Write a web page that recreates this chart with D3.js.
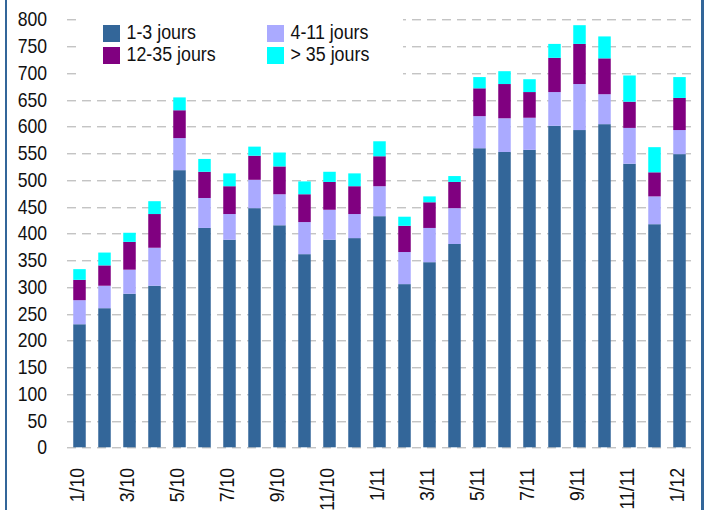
<!DOCTYPE html>
<html>
  <head>
    <meta charset="utf-8">
    <title>Durées</title>
    <style>
    body{margin: 0; background: #fff}
    text {font-family: "Liberation Sans", Arial, sans-serif; fill: #111}
    </style>
  </head>
  <body>
    <script src="https://d3js.org/d3.v7.min.js"></script>
    <script>
    var w = 705, h = 510
    var narrow = 0.88 // squeeze text to look like a narrow face

    // months 1/10 .. 1/12
    var months = ['1/10','2/10','3/10','4/10','5/10','6/10','7/10','8/10','9/10','10/10','11/10','12/10',
      '1/11','2/11','3/11','4/11','5/11','6/11','7/11','8/11','9/11','10/11','11/11','12/11','1/12']

    var series = ['1-3 jours', '4-11 jours', '12-35 jours', '> 35 jours']
    var colors = ['#336699', '#aaaaff', '#800080', '#00ffff']

    var j1_3   = [230,260,287,302,518,410,388,447,415,361,388,391,432,305,346,380,559,552,556,601,593,604,530,417,548]
    var j4_11  = [45,42,45,71,60,56,48,53,58,60,56,45,56,60,64,67,60,63,60,63,86,56,67,52,45]
    var j12_35 = [38,38,52,63,52,49,52,45,52,52,52,52,56,49,48,49,52,64,48,64,75,67,49,45,60]
    var j35    = [20,24,17,24,24,24,24,17,26,24,19,24,28,17,11,11,21,24,24,26,35,41,49,47,39]

    var yTicks = d3.range(0, 801, 50)

    var rows = months.map(function(m, i){
      return {month: m, '1-3 jours': j1_3[i], '4-11 jours': j4_11[i], '12-35 jours': j12_35[i], '> 35 jours': j35[i]}
    })

    var stack = d3.stack().keys(series)(rows)

    var x = d3.scaleBand().domain(months).range([67, 692]).paddingInner(0.5).paddingOuter(0.25)
    var y = d3.scaleLinear().domain([0, 800]).range([447.3, 19.3])

    var svg = d3.select('body').append('svg')
      .attr('width', w)
      .attr('height', h)

    // gridlines
    var grid = svg.append('g')
    grid.selectAll('line.g1').data(yTicks).enter().append('line')
      .attr('x1', 67).attr('x2', 692)
      .attr('y1', function(d){ return Math.round(y(d)) + 0.5 })
      .attr('y2', function(d){ return Math.round(y(d)) + 0.5 })
      .attr('stroke', '#c4c4c4').attr('stroke-dasharray', '9,6')
    grid.selectAll('line.g2').data(yTicks).enter().append('line')
      .attr('x1', 67).attr('x2', 692)
      .attr('y1', function(d){ return Math.round(y(d)) + 1.5 })
      .attr('y2', function(d){ return Math.round(y(d)) + 1.5 })
      .attr('stroke', '#e6e6e6').attr('stroke-dasharray', '9,6')

    // y labels
    svg.append('g').selectAll('g').data(yTicks).enter().append('g')
      .attr('transform', function(d){ return 'translate(47,' + y(d) + ') scale(' + narrow + ',1)' })
      .append('text')
      .attr('dy', '0.35em')
      .attr('text-anchor', 'end')
      .attr('font-size', 20)
      .text(function(d){ return d })

    // bars
    svg.append('g').selectAll('g').data(stack).enter().append('g')
      .attr('fill', function(d, i){ return colors[i] })
      .selectAll('rect').data(function(d){ return d }).enter().append('rect')
        .attr('x', function(d){ return x(d.data.month) })
        .attr('width', x.bandwidth())
        .attr('y', function(d){ return y(d[1]) })
        .attr('height', function(d){ return y(d[0]) - y(d[1]) })

    // x labels, every other month
    svg.append('g').selectAll('g').data(months.filter(function(m, i){ return i % 2 == 0 })).enter().append('g')
      .attr('transform', function(d){ return 'translate(' + (x(d) + x.bandwidth() / 2 - 3) + ',468) rotate(-90) scale(' + narrow + ',1)' })
      .append('text')
      .attr('dy', '0.35em')
      .attr('text-anchor', 'end')
      .attr('font-size', 20)
      .text(function(d){ return d })

    // legend
    var legend = svg.append('g')
    legend.append('rect').attr('x', 79).attr('y', 8).attr('width', 324).attr('height', 74).attr('fill', '#fff')
    var lpos = [[103, 25], [267, 25], [103, 47], [267, 47]]
    series.forEach(function(s, i){
      legend.append('rect')
        .attr('x', lpos[i][0]).attr('y', lpos[i][1])
        .attr('width', 17).attr('height', 17)
        .attr('fill', colors[i])
      legend.append('g')
        .attr('transform', 'translate(' + (lpos[i][0] + 23.5) + ',' + (lpos[i][1] + 6.5) + ') scale(0.85,1)')
        .append('text')
        .attr('dy', '0.35em')
        .attr('font-size', 21)
        .text(s)
    })

    // frame sides
    svg.append('rect').attr('x', 5).attr('y', 0).attr('width', 2).attr('height', h).attr('fill', '#336699')
    svg.append('rect').attr('x', 701).attr('y', 0).attr('width', 3).attr('height', h).attr('fill', '#336699')
    </script>
  </body>
</html>
